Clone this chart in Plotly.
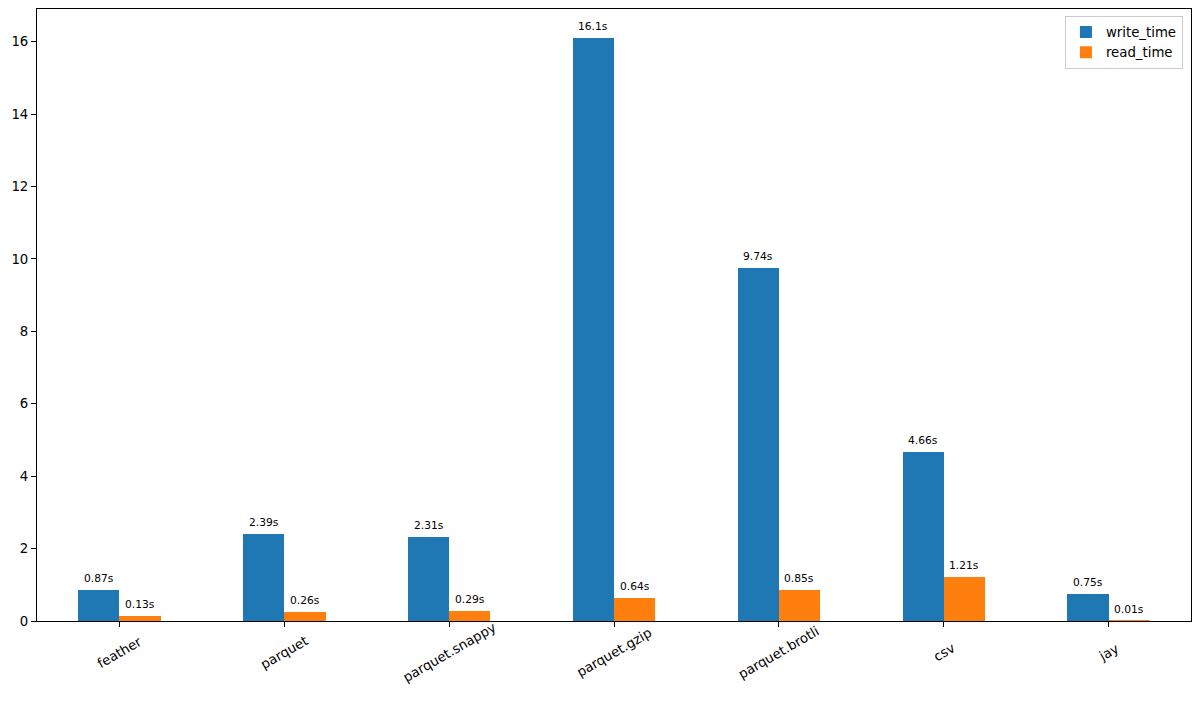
import plotly.graph_objects as go

formats = ['feather', 'parquet', 'parquet.snappy', 'parquet.gzip', 'parquet.brotli', 'csv', 'jay']
write_time = [0.87, 2.39, 2.31, 16.1, 9.74, 4.66, 0.75]
read_time = [0.13, 0.26, 0.29, 0.64, 0.85, 1.21, 0.01]

idx = list(range(len(formats)))
bar_w = 0.25
font = "DejaVu Sans"

fig = go.Figure()
fig.add_trace(go.Bar(x=[i - bar_w / 2 for i in idx], y=write_time, width=bar_w,
                     name='write_time', marker_color='#1f77b4', marker_line_width=0))
fig.add_trace(go.Bar(x=[i + bar_w / 2 for i in idx], y=read_time, width=bar_w,
                     name='read_time', marker_color='#ff7f0e', marker_line_width=0))

annotations = []
# value labels above the bars
for vals, off in [(write_time, -bar_w / 2), (read_time, bar_w / 2)]:
    for i, v in zip(idx, vals):
        annotations.append(dict(x=i + off, y=v, xref='x', yref='y', text=f"{v}s",
                                showarrow=False, yanchor='bottom', yshift=3,
                                font=dict(size=10.7, color='black', family=font)))
# rotated category labels, centred under the ticks like matplotlib
for i, name in zip(idx, formats):
    annotations.append(dict(x=i, y=0, xref='x', yref='y', text=name, textangle=-30,
                            showarrow=False, xanchor='center', yanchor='middle', yshift=-31,
                            font=dict(size=13.3, color='black', family=font)))

fig.update_layout(
    width=1200, height=707,
    margin=dict(l=37, r=9, t=9, b=86, autoexpand=False),
    paper_bgcolor='white', plot_bgcolor='white',
    font=dict(family=font, size=13.3, color='black'),
    bargap=0, showlegend=True,
    legend=dict(x=0.993, y=0.989, xanchor='right', yanchor='top',
                bgcolor='rgba(255,255,255,0.8)', bordercolor='#cccccc', borderwidth=1,
                font=dict(size=13.3)),
    annotations=annotations,
)
fig.update_xaxes(range=[-0.5, 6.5], tickvals=idx, showticklabels=False,
                 ticks='outside', ticklen=5, tickcolor='black',
                 showline=True, linecolor='black', linewidth=1, mirror=True,
                 showgrid=False, zeroline=False)
fig.update_yaxes(range=[0, 16.905], tickvals=list(range(0, 17, 2)),
                 ticks='outside', ticklen=5, tickcolor='black',
                 showline=True, linecolor='black', linewidth=1, mirror=True,
                 showgrid=False, zeroline=False)

# drop the default body margin so the figure sits at the window's corner
fig.write_html("out.html", config={'displayModeBar': False},
               post_script="document.body.style.margin='0';")
